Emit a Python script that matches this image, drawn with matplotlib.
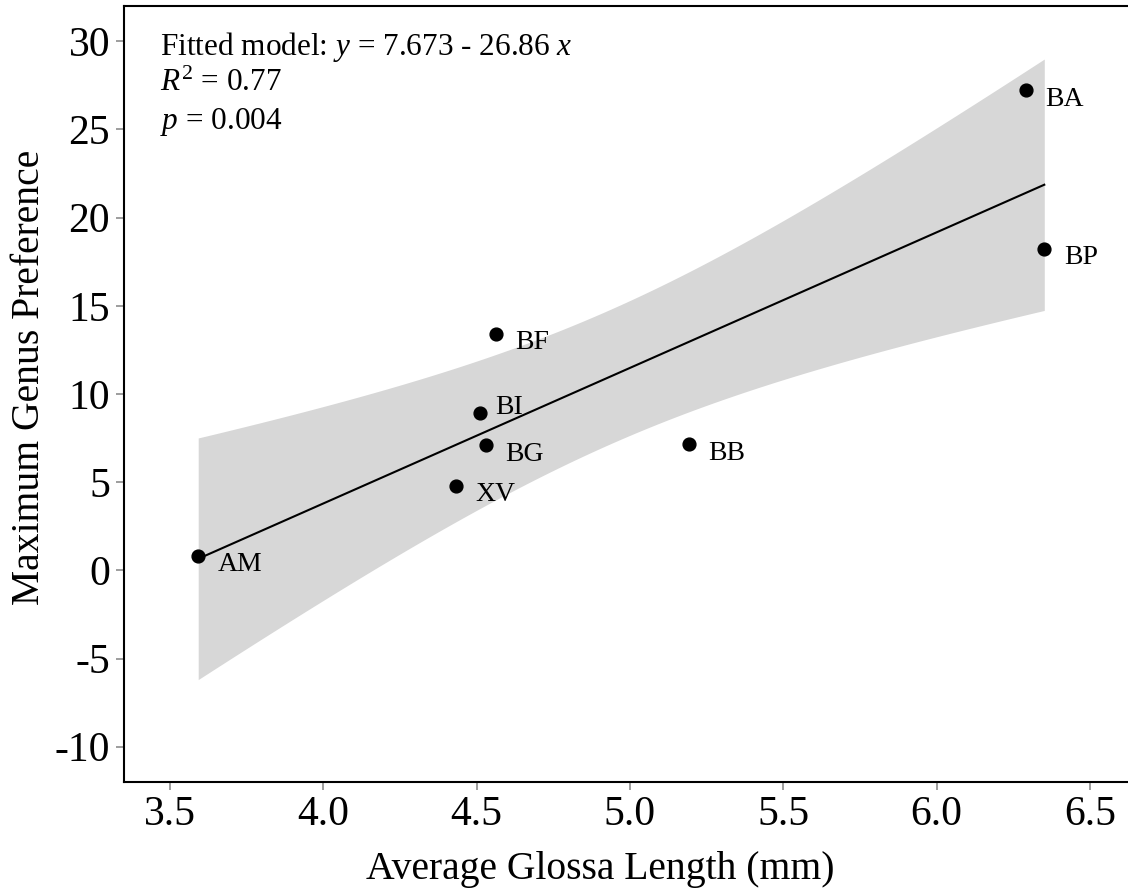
import numpy as np
import matplotlib
matplotlib.use("Agg")
from matplotlib import pyplot as plt

plt.rcParams['font.family'] = ['Liberation Serif', 'DejaVu Serif']
plt.rcParams['mathtext.fontset'] = 'custom'
plt.rcParams['mathtext.rm'] = 'Liberation Serif'
plt.rcParams['mathtext.it'] = 'Liberation Serif:italic'
plt.rcParams['axes.unicode_minus'] = False

# genus codes, glossa length (mm) and max genus preference
species = ["AM", "XV", "BI", "BG", "BF", "BB", "BA", "BP"]
glossa_length = [3.592, 4.433, 4.511, 4.530, 4.562, 5.191, 6.291, 6.351]
max_preference = [0.84, 4.80, 8.94, 7.09, 13.43, 7.14, 27.22, 18.24]

x_ticks = [3.5, 4.0, 4.5, 5.0, 5.5, 6.0, 6.5]
y_ticks = [-10, -5, 0, 5, 10, 15, 20, 25, 30]

# linear fit with 95% confidence band (t for df = 6)
x = np.array(glossa_length)
y = np.array(max_preference)
n = len(x)
slope, intercept = np.polyfit(x, y, 1)
resid = y - (intercept + slope * x)
s_err = np.sqrt(np.sum(resid ** 2) / (n - 2))
t_val = 2.4469
xs = np.linspace(x.min(), x.max(), 200)
ys = intercept + slope * xs
se_fit = s_err * np.sqrt(1 / n + (xs - x.mean()) ** 2 / np.sum((x - x.mean()) ** 2))

fig = plt.figure(figsize=(11.28, 8.9), dpi=100)
ax = fig.add_axes([124 / 1128, 108 / 890, 1004 / 1128, 776 / 890])

ax.fill_between(xs, ys - t_val * se_fit, ys + t_val * se_fit, color='#d7d7d7', lw=0, zorder=1)
ax.plot(xs, ys, color='black', lw=1.5, zorder=2)
ax.scatter(x, y, s=85, color='black', zorder=3)

# label nudges (points); BI sits up and to the right of its dot
nudge = {"BI": (11, 4)}
for name, xi, yi in zip(species, glossa_length, max_preference):
    ax.annotate(name, (xi, yi), xytext=nudge.get(name, (14, -6.5)), textcoords='offset points',
                ha='left', va='center', fontsize=20)

ax.set_xlim(3.35, 6.624)
ax.set_ylim(-12, 32)
ax.set_xticks(x_ticks)
ax.set_xticklabels([f"{v:.1f}" for v in x_ticks])
ax.set_yticks(y_ticks)
ax.tick_params(axis='both', length=6, width=1.2, color='#8c8c8c', labelsize=30, pad=4)

ax.spines['right'].set_visible(False)
for side in ['left', 'bottom', 'top']:
    ax.spines[side].set_linewidth(1.5)

ax.set_xlabel("Average Glossa Length (mm)", fontsize=28.5)
ax.set_ylabel("Maximum Genus Preference", fontsize=28.5)
ax.xaxis.set_label_coords(0.474, -0.089)
ax.yaxis.set_label_coords(-0.076, 0.522)

ax.text(0.036, 0.947, "Fitted model: $y$ = 7.673 - 26.86 $x$", transform=ax.transAxes,
        fontsize=22.5, va='center', ha='left')
ax.text(0.036, 0.900, "$R^2$ = 0.77", transform=ax.transAxes,
        fontsize=22.5, va='center', ha='left')
ax.text(0.036, 0.851, "$p$ = 0.004", transform=ax.transAxes,
        fontsize=22.5, va='center', ha='left')

fig.savefig("out.png", dpi=100)
